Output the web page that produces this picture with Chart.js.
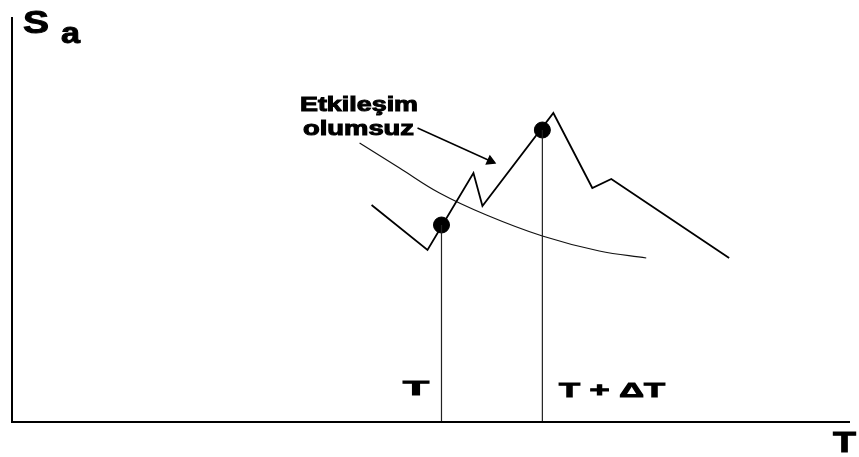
<!DOCTYPE html>
<html>
<head>
<meta charset="utf-8">
<script src="https://cdn.jsdelivr.net/npm/chart.js@4.4.1/dist/chart.umd.min.js"></script>
<style>
  html, body { margin: 0; padding: 0; background: #fff; }
  #box { width: 859px; height: 457px; }
</style>
</head>
<body>
<div id="box"><canvas id="spectrumChart" width="859" height="457"></canvas></div>
<script>
// period axis (T) and spectral acceleration (Sa), schematic units
const spectrumT = [360, 416, 462, 471, 542, 581, 600, 718];
const spectrumSa = [217, 172, 249, 216, 309, 234, 243, 164];

const curveT = [348, 388, 428, 475, 531, 588, 635];
const curveSa = [279, 254, 229, 207, 186, 171, 164];

const markT = [430, 531];
const markSa = [197, 292];

const arrowT = [406, 479];
const arrowSa = [294, 261];

const axisMaxT = 839;
const axisMaxSa = 406;

function toPoints(xs, ys) {
  return xs.map((x, i) => ({ x: x, y: ys[i] }));
}

// axes + text labels
const sketchPlugin = {
  id: 'sketch',
  afterDraw(chart) {
    const ctx = chart.ctx;
    const a = chart.chartArea;
    ctx.save();
    ctx.strokeStyle = '#000';
    ctx.lineWidth = 2;
    ctx.beginPath();
    ctx.moveTo(a.left, a.top + 1);
    ctx.lineTo(a.left, a.bottom);
    ctx.lineTo(a.right, a.bottom);
    ctx.stroke();
    ctx.restore();

    drawLabel(ctx, 'S', 23, 33, 32, 26);
    drawLabel(ctx, 'a', 61, 43, 30, 19);
    drawLabel(ctx, 'Etkileşim', 300, 111, 20, 118);
    drawLabel(ctx, 'olumsuz', 303, 135, 20, 111);
    drawLabel(ctx, 'T', 403, 395, 21, 26);
    drawLabel(ctx, 'T + ΔT', 559, 397, 21, 106);
    drawLabel(ctx, 'T', 833, 452, 30, 23);
  }
};

function drawLabel(ctx, text, left, baseline, size, width) {
  ctx.save();
  ctx.font = 'bold ' + size + 'px "Liberation Sans", Arial, sans-serif';
  ctx.textBaseline = 'alphabetic';
  ctx.fillStyle = '#000';
  ctx.strokeStyle = '#000';
  ctx.lineWidth = 1;
  const w = ctx.measureText(text).width;
  ctx.translate(left, baseline);
  ctx.scale(width / w, 1);
  ctx.fillText(text, 0, 0);
  ctx.strokeText(text, 0, 0);
  ctx.restore();
}

const ctx = document.getElementById('spectrumChart').getContext('2d');
const spectrumChart = new Chart(ctx, {
  type: 'scatter',
  data: {
    datasets: [
      {
        label: 'vertical T',
        data: [{ x: markT[0], y: markSa[0] }, { x: markT[0], y: 0 }],
        showLine: true,
        borderColor: '#222',
        borderWidth: 1.2,
        pointRadius: 0
      },
      {
        label: 'vertical T + dT',
        data: [{ x: markT[1], y: markSa[1] }, { x: markT[1], y: 0 }],
        showLine: true,
        borderColor: '#222',
        borderWidth: 1.2,
        pointRadius: 0
      },
      {
        label: 'spectrum',
        data: toPoints(spectrumT, spectrumSa),
        showLine: true,
        borderColor: '#000',
        borderWidth: 1.8,
        pointRadius: 0
      },
      {
        label: 'etkilesim',
        data: toPoints(curveT, curveSa),
        showLine: true,
        tension: 0.4,
        borderColor: '#111',
        borderWidth: 1.2,
        pointRadius: 0
      },
      {
        label: 'arrow',
        data: toPoints(arrowT, arrowSa),
        showLine: true,
        borderColor: '#000',
        borderWidth: 1.4,
        pointStyle: 'triangle',
        pointRotation: 114,
        pointRadius: [0, 5],
        backgroundColor: '#000',
        pointBorderColor: '#000'
      },
      {
        label: 'marks',
        data: toPoints(markT, markSa),
        showLine: false,
        pointStyle: 'circle',
        pointRadius: 8,
        backgroundColor: '#000',
        pointBorderColor: '#000'
      }
    ]
  },
  options: {
    responsive: false,
    animation: false,
    devicePixelRatio: 1,
    layout: { padding: { left: 12, top: 16, right: 8, bottom: 35 } },
    plugins: {
      legend: { display: false },
      tooltip: { enabled: false }
    },
    scales: {
      x: { type: 'linear', min: 0, max: axisMaxT, display: false },
      y: { type: 'linear', min: 0, max: axisMaxSa, display: false }
    }
  },
  plugins: [sketchPlugin]
});
</script>
</body>
</html>
